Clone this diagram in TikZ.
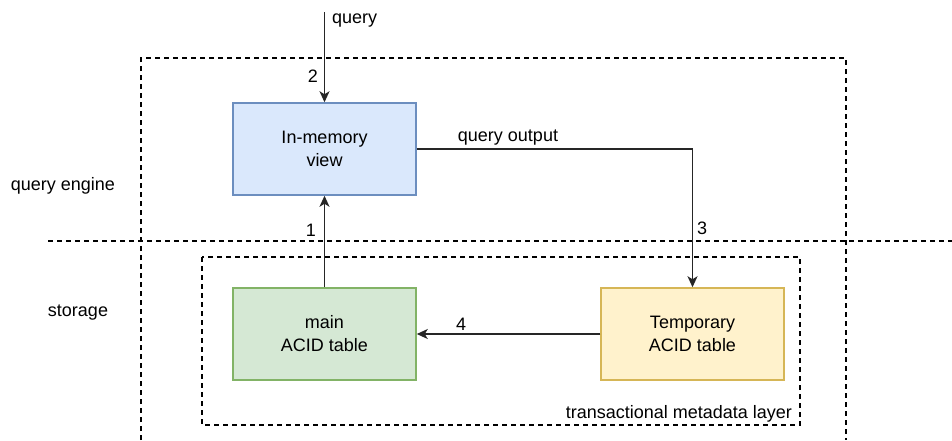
\documentclass[tikz,border=0pt]{standalone}
\usepackage{fontspec}
\setmainfont{Liberation Sans}
\usetikzlibrary{arrows.meta}
\definecolor{viewfill}{HTML}{DAE8FC}
\definecolor{viewline}{HTML}{6C8EBF}
\definecolor{mainfill}{HTML}{D5E8D4}
\definecolor{mainline}{HTML}{82B366}
\definecolor{tempfill}{HTML}{FFF2CC}
\definecolor{templine}{HTML}{D6B656}
\begin{document}
\begin{tikzpicture}[x=1pt,y=-1pt,line width=1.5pt,
    box/.style={draw,minimum width=183pt,minimum height=92pt,align=center,inner sep=0pt},
    zone/.style={dashed,dash pattern=on 5pt off 4pt,line width=1.3pt},
    flow/.style={-{Stealth[length=11pt,width=10pt,inset=3pt]},draw=black!85}]
  \tikzstyle{every node}=[font=\fontsize{18}{23}\selectfont]
  \useasboundingbox (0,0) rectangle (952,440);

  % layers
  \draw[zone] (141,440) -- (141,58) -- (846,58) -- (846,440);
  \draw[zone] (48,241) -- (952,241);
  \draw[zone] (202,257) rectangle (800,425);
  \node (engine) at (63,186) {query engine};
  \node (storage) at (78,313) {storage};
  \node[anchor=east] (layer) at (796,414) {transactional metadata layer};

  % tables
  \node[box,fill=viewfill,draw=viewline] (view) at (324.5,149) {In-memory\\view};
  \node[box,fill=mainfill,draw=mainline] (main) at (324.5,334) {main\\ACID table};
  \node[box,fill=tempfill,draw=templine] (temp) at (692.5,334) {Temporary\\ACID table};

  % flows
  \coordinate (src) at (324.5,12);
  \draw[flow] (src) -- (view.north);
  \node[anchor=west] (q) at (328,21) {query};
  \node (two) at (313,76) {2};

  \draw[flow] (main.north) -- (view.south);
  \node (one) at (311,230) {1};

  \draw[flow] (view.east) -| (temp.north);
  \node (qout) at (508,138) {query output};
  \node (three) at (702,228) {3};

  \draw[flow] (temp.west) -- (main.east);
  \node (four) at (461,324) {4};
\end{tikzpicture}
\end{document}
